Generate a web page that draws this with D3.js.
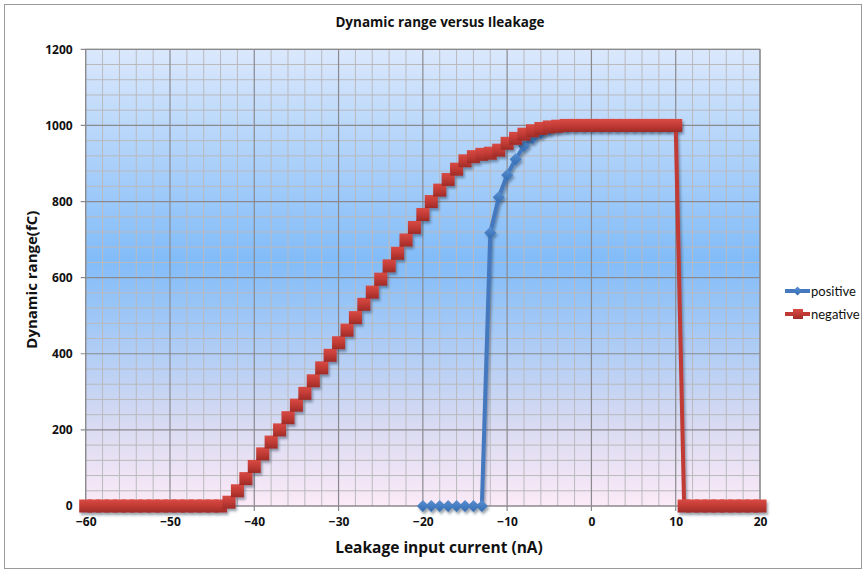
<!DOCTYPE html>
<html>
<head>
<meta charset="utf-8">
<script src="https://cdn.jsdelivr.net/npm/d3@7/dist/d3.min.js"></script>
<style>
  html, body { margin: 0; padding: 0; background: #fff; }
  svg { display: block; }
  text { font-family: "Open Sans", "Liberation Sans", sans-serif; }
</style>
</head>
<body>
<svg id="chart" width="867" height="573"></svg>
<script>
// Leakage current (nA) and measured dynamic range (fC)
const positiveX = [-20, -19, -18, -17, -16, -15, -14, -13, -12, -11, -10, -9, -8, -7, -6, -5, -4, -3, -2, -1, 0, 1, 2, 3, 4, 5, 6, 7, 8, 9, 10];
const positiveY = [0, 0, 0, 0, 0, 0, 0, 0, 718, 811, 870, 911, 946, 966, 980, 990, 995, 998, 1000, 1000, 1000, 1000, 1000, 1000, 1000, 1000, 1000, 1000, 1000, 1000, 1000];

const negativeX = [-60, -59, -58, -57, -56, -55, -54, -53, -52, -51, -50, -49, -48, -47, -46, -45, -44,
  -43, -42, -41, -40, -39, -38, -37, -36, -35, -34, -33, -32, -31, -30, -29, -28, -27, -26, -25, -24,
  -23, -22, -21, -20, -19, -18, -17, -16, -15, -14, -13, -12, -11, -10, -9, -8, -7, -6, -5, -4,
  -3, -2, -1, 0, 1, 2, 3, 4, 5, 6, 7, 8, 9, 10, 11, 12, 13, 14, 15, 16, 17, 18, 19, 20];
const negativeY = [0, 0, 0, 0, 0, 0, 0, 0, 0, 0, 0, 0, 0, 0, 0, 0, 0,
  10, 40, 72, 104, 137, 168, 200, 232, 265, 296, 329, 363, 396, 429, 462, 495, 530, 562, 596, 631,
  664, 699, 732, 766, 800, 830, 858, 885, 907, 918, 924, 927, 935, 953, 966, 977, 986, 992, 996, 998,
  1000, 1000, 1000, 1000, 1000, 1000, 1000, 1000, 1000, 1000, 1000, 1000, 1000, 1000, 0, 0, 0, 0, 0, 0, 0, 0, 0, 0];

const xTicks = [-60, -50, -40, -30, -20, -10, 0, 10, 20];
const yTicks = [0, 200, 400, 600, 800, 1000, 1200];
const seriesNames = ["positive", "negative"];

const svg = d3.select("#chart");
const plot = { left: 85.7, right: 760, top: 49.3, bottom: 506 };

const x = d3.scaleLinear().domain([-60, 20]).range([plot.left, plot.right]);
const y = d3.scaleLinear().domain([0, 1200]).range([plot.bottom, plot.top]);

const defs = svg.append("defs");

// Plot-area background: pale blue at the top, deeper blue mid-way, fading to pink
const bg = defs.append("linearGradient").attr("id", "bgGrad")
  .attr("x1", 0).attr("y1", 0).attr("x2", 0).attr("y2", 1);
[["0%", "#dbe8fc"], ["46%", "#82bcf8"], ["66%", "#b0cdf5"], ["83%", "#dadbf2"], ["100%", "#fceaf7"]]
  .forEach(([o, c]) => bg.append("stop").attr("offset", o).attr("stop-color", c));

const redGrad = defs.append("linearGradient").attr("id", "redGrad")
  .attr("x1", 0).attr("y1", 0).attr("x2", 0).attr("y2", 1);
[["0%", "#d84a44"], ["50%", "#c23b35"], ["100%", "#9e2b27"]]
  .forEach(([o, c]) => redGrad.append("stop").attr("offset", o).attr("stop-color", c));

const blueGrad = defs.append("linearGradient").attr("id", "blueGrad")
  .attr("x1", 0).attr("y1", 0).attr("x2", 0).attr("y2", 1);
[["0%", "#5a8fd0"], ["100%", "#336cb3"]]
  .forEach(([o, c]) => blueGrad.append("stop").attr("offset", o).attr("stop-color", c));

const shadow = defs.append("filter").attr("id", "shadow")
  .attr("x", "-20%").attr("y", "-20%").attr("width", "140%").attr("height", "140%");
shadow.append("feDropShadow").attr("dx", 1.5).attr("dy", 2.5).attr("stdDeviation", 1.3)
  .attr("flood-color", "#20304a").attr("flood-opacity", 0.45);

// Outer frame
svg.append("rect").attr("x", 4.5).attr("y", 4.5).attr("width", 857).attr("height", 564)
  .attr("fill", "#fff").attr("stroke", "#9a9a9a").attr("stroke-width", 1);

// Plot background
svg.append("rect").attr("x", plot.left).attr("y", plot.top)
  .attr("width", plot.right - plot.left).attr("height", plot.bottom - plot.top)
  .attr("fill", "url(#bgGrad)");

// Minor and major gridlines
const grid = svg.append("g");
const minorX = d3.range(-60, 21, 2).filter(v => v % 10 !== 0);
const minorY = d3.range(0, 1201, 40).filter(v => v % 200 !== 0);
grid.selectAll(".mx").data(minorX).join("line")
  .attr("x1", d => x(d)).attr("x2", d => x(d)).attr("y1", plot.top).attr("y2", plot.bottom)
  .attr("stroke", "#b9b9bd").attr("stroke-width", 1);
grid.selectAll(".my").data(minorY).join("line")
  .attr("y1", d => y(d)).attr("y2", d => y(d)).attr("x1", plot.left).attr("x2", plot.right)
  .attr("stroke", "#b9b9bd").attr("stroke-width", 1);
grid.selectAll(".Mx").data(xTicks).join("line")
  .attr("x1", d => x(d)).attr("x2", d => x(d)).attr("y1", plot.top).attr("y2", plot.bottom + 5)
  .attr("stroke", "#8a8a8e").attr("stroke-width", 1.2);
grid.selectAll(".My").data(yTicks).join("line")
  .attr("y1", d => y(d)).attr("y2", d => y(d)).attr("x1", plot.left - 5).attr("x2", plot.right)
  .attr("stroke", "#8a8a8e").attr("stroke-width", 1.2);
svg.append("rect").attr("x", plot.left).attr("y", plot.top)
  .attr("width", plot.right - plot.left).attr("height", plot.bottom - plot.top)
  .attr("fill", "none").attr("stroke", "#8a8a8e").attr("stroke-width", 1);

// Axes
const xAxis = svg.append("g").attr("transform", `translate(0,${plot.bottom})`)
  .call(d3.axisBottom(x).tickValues(xTicks).tickSize(0).tickPadding(11).tickFormat(d3.format("d")));
const yAxis = svg.append("g").attr("transform", `translate(${plot.left},0)`)
  .call(d3.axisLeft(y).tickValues(yTicks).tickSize(0).tickPadding(13).tickFormat(d3.format("d")));
[xAxis, yAxis].forEach(a => {
  a.select(".domain").remove();
  a.selectAll("text").attr("font-size", 12).attr("font-weight", "bold").attr("fill", "#111")
    .style("font-family", "'Open Sans', sans-serif");
});

// Titles
svg.append("text").attr("x", 440).attr("y", 27).attr("text-anchor", "middle")
  .attr("font-size", 13.5).attr("font-weight", "bold").attr("fill", "#111")
  .text("Dynamic range versus Ileakage");
svg.append("text").attr("x", 439).attr("y", 553).attr("text-anchor", "middle")
  .attr("font-size", 15.5).attr("font-weight", "bold").attr("fill", "#111")
  .text("Leakage input current (nA)");
svg.append("text").attr("transform", `translate(37,${(plot.top + plot.bottom) / 2 + 2}) rotate(-90)`)
  .attr("text-anchor", "middle").attr("font-size", 15).attr("font-weight", "bold").attr("fill", "#111")
  .text("Dynamic range(fC)");

const line = d3.line().x(d => x(d[0])).y(d => y(d[1]));
const posData = positiveX.map((v, i) => [v, positiveY[i]]);
const negData = negativeX.map((v, i) => [v, negativeY[i]]);

const diamond = s => `M0,${-s}L${s},0L0,${s}L${-s},0Z`;

// positive series: blue line with diamonds
const gPos = svg.append("g").attr("filter", "url(#shadow)");
gPos.append("path").datum(posData).attr("d", line)
  .attr("fill", "none").attr("stroke", "#4479bf").attr("stroke-width", 4).attr("stroke-linejoin", "round");
gPos.selectAll("path.m").data(posData).join("path").attr("class", "m")
  .attr("transform", d => `translate(${x(d[0])},${y(d[1])})`)
  .attr("d", diamond(6)).attr("fill", "url(#blueGrad)");

// negative series: red line with squares
const gNeg = svg.append("g").attr("filter", "url(#shadow)");
gNeg.append("path").datum(negData).attr("d", line)
  .attr("fill", "none").attr("stroke", "#c03a35").attr("stroke-width", 4).attr("stroke-linejoin", "round");
gNeg.selectAll("rect.m").data(negData).join("rect").attr("class", "m")
  .attr("x", d => x(d[0]) - 6.5).attr("y", d => y(d[1]) - 6.5)
  .attr("width", 13).attr("height", 13).attr("fill", "url(#redGrad)");

// Legend
const legend = svg.append("g");
const legendRows = [
  { name: seriesNames[0], color: "#4479bf", y: 291 },
  { name: seriesNames[1], color: "#c03a35", y: 314 }
];
legendRows.forEach((r, i) => {
  legend.append("line").attr("x1", 785).attr("x2", 810).attr("y1", r.y).attr("y2", r.y)
    .attr("stroke", r.color).attr("stroke-width", 4);
  if (i === 0) {
    legend.append("path").attr("transform", `translate(797.5,${r.y})`).attr("d", diamond(4.5))
      .attr("fill", "url(#blueGrad)");
  } else {
    legend.append("rect").attr("x", 793).attr("y", r.y - 5).attr("width", 10).attr("height", 10)
      .attr("fill", "url(#redGrad)");
  }
  legend.append("text").attr("x", 811).attr("y", r.y + 4.5).attr("font-size", 13)
    .style("font-family", "Lato, 'Open Sans', sans-serif")
    .attr("fill", "#111").text(r.name);
});
</script>
</body>
</html>
